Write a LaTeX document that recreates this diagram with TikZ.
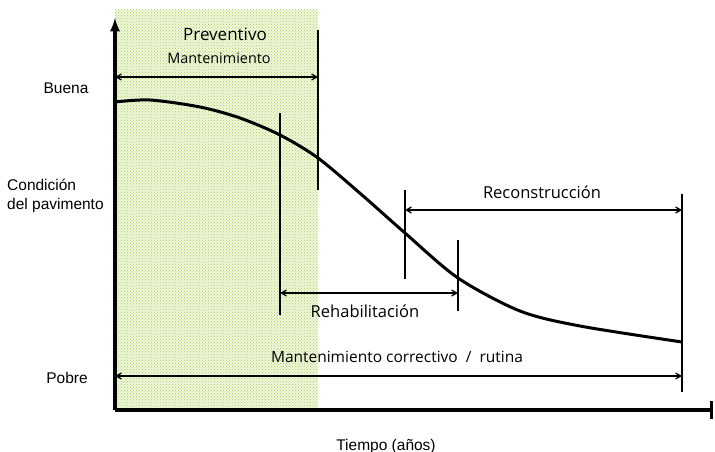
\documentclass[tikz,border=0pt]{standalone}
\usepackage{fontspec}
\setmainfont{Open Sans}
\newfontfamily\axisfont{Liberation Sans}
\usetikzlibrary{arrows,patterns}
\definecolor{zonebg}{RGB}{240,247,222}
\definecolor{zonedot}{RGB}{165,208,80}

\begin{document}
\begin{tikzpicture}[x=1pt,y=-1pt]
\tikzstyle{every node}=[inner sep=1pt]
\tikzstyle{bar}=[line width=2.2pt]
\tikzstyle{span}=[line width=1.3pt,angle 60-angle 60]
\tikzstyle{axis}=[line width=3.5pt]
\tikzstyle{ylabel}=[font=\axisfont\fontsize{15.5}{18.5}\selectfont]
\useasboundingbox (0,0) rectangle (715,452);
% zona preventiva
\fill[zonebg] (115,10) rectangle (318,410);
\fill[pattern=crosshatch dots,pattern color=zonedot] (115,10) rectangle (318,410);
% ejes
\coordinate (o) at (115,410);
\coordinate (ytop) at (115,18);
\coordinate (xend) at (713,410);
\draw[axis,-latex] (o) -- (ytop);
\draw[axis,-|] (o) -- (xend);
% curva de condicion
\draw[line width=3pt] plot[smooth,tension=0.5] coordinates {(115,102) (150,100) (200,107) (240,118) (280,135) (318,158) (362,195) (405,233) (458,278) (520,311) (580,326) (682,342)};
% barras verticales
\coordinate (p1) at (318,30);  \coordinate (p2) at (318,190);
\coordinate (r1) at (280,113); \coordinate (r2) at (280,315);
\coordinate (h1) at (458,240); \coordinate (h2) at (458,311);
\coordinate (c1) at (405,190); \coordinate (c2) at (405,279);
\coordinate (e1) at (682,194); \coordinate (e2) at (682,392);
\draw[bar] (p1) -- (p2);
\draw[bar] (r1) -- (r2);
\draw[bar] (h1) -- (h2);
\draw[bar] (c1) -- (c2);
\draw[bar] (e1) -- (e2);
% flechas de intervalo
\coordinate (pa) at (115,77);  \coordinate (pb) at (318,77);
\coordinate (ra) at (280,293); \coordinate (rb) at (458,293);
\coordinate (ca) at (405,210); \coordinate (cb) at (682,210);
\coordinate (ma) at (115,376); \coordinate (mb) at (682,376);
\draw[span] (pa) -- (pb);
\draw[span] (ra) -- (rb);
\draw[span] (ca) -- (cb);
\draw[span] (ma) -- (mb);
% textos
\node (prev) at (225,34) {\fontsize{17}{20}\selectfont Preventivo};
\node (mant) at (219,58) {\fontsize{14.4}{17}\selectfont Mantenimiento};
\node (reha) at (365,311) {\fontsize{16.5}{19}\selectfont Rehabilitación};
\node (reco) at (542,192) {\fontsize{16.5}{19}\selectfont Reconstrucción};
\node (corr) at (397,357) {\fontsize{15.5}{18}\selectfont Mantenimiento correctivo \ / \ rutina};
\node[ylabel] (buena) at (66,88) {Buena};
\node[ylabel] (pobre) at (67,378) {Pobre};
\node[ylabel,align=left,anchor=west] (cond) at (6,196) {Condición\\del pavimento};
\node[ylabel] (tiempo) at (386,446) {Tiempo (años)};
\end{tikzpicture}
\end{document}
